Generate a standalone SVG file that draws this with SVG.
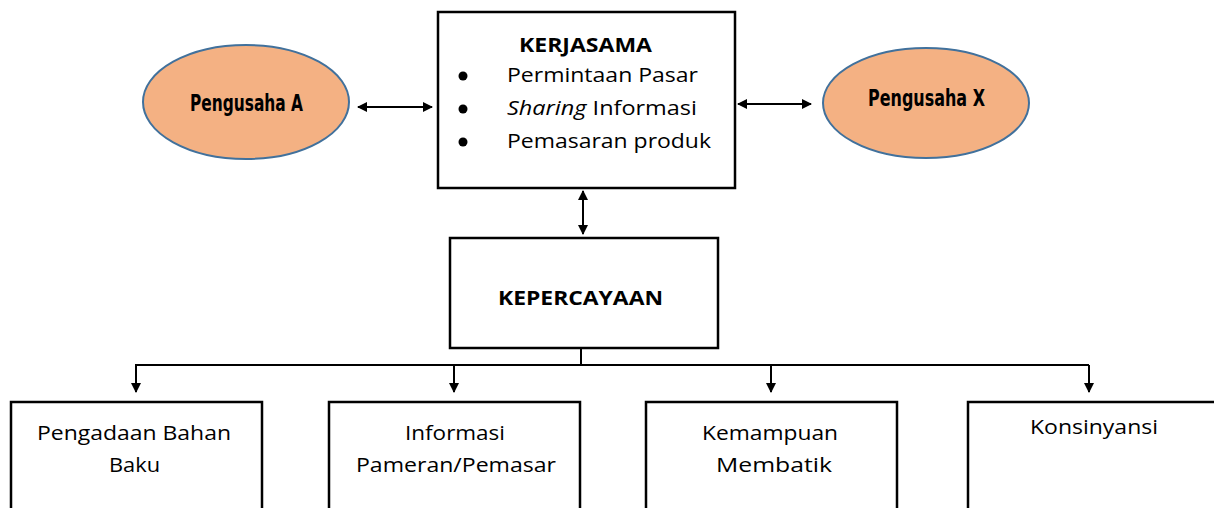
<svg xmlns="http://www.w3.org/2000/svg" width="1214" height="508" viewBox="0 0 1214 508">
<style>
.box{fill:#fff;stroke:#000;stroke-width:2.5}
.ell{fill:#F4B183;stroke:#41719C;stroke-width:2}
.t{font-family:"Open Sans","Liberation Sans",sans-serif;font-size:20px;fill:#000}
.b{font-weight:bold}
.e{font-family:"DejaVu Sans","Liberation Sans",sans-serif;font-weight:bold;font-stretch:condensed;font-size:23px;fill:#000}
.c{fill:none;stroke:#000;stroke-width:2}
</style>
<defs>
<marker id="ah" viewBox="0 0 10 10" refX="9" refY="5" markerWidth="5" markerHeight="5" orient="auto-start-reverse" markerUnits="strokeWidth">
<path d="M0,0 L10,5 L0,10 z" fill="#000"/>
</marker>
</defs>
<g id="connectors">
<line class="c" x1="358" y1="107" x2="432" y2="107" marker-start="url(#ah)" marker-end="url(#ah)"/>
<line class="c" x1="738" y1="104" x2="811" y2="104" marker-start="url(#ah)" marker-end="url(#ah)"/>
<line class="c" x1="583" y1="191" x2="583" y2="234" marker-start="url(#ah)" marker-end="url(#ah)"/>
<polyline class="c" points="581,349 581,365"/>
<line class="c" x1="135" y1="365" x2="1089" y2="365"/>
<line class="c" x1="136" y1="365" x2="136" y2="392" marker-end="url(#ah)"/>
<line class="c" x1="454" y1="365" x2="454" y2="392" marker-end="url(#ah)"/>
<line class="c" x1="771" y1="365" x2="771" y2="392" marker-end="url(#ah)"/>
<line class="c" x1="1089" y1="365" x2="1089" y2="392" marker-end="url(#ah)"/>
</g>
<g id="kerjasama">
<rect class="box" x="438" y="12" width="297" height="176"/>
<text class="t b" x="519" y="52" textLength="133" lengthAdjust="spacingAndGlyphs">KERJASAMA</text>
<circle cx="463" cy="76" r="4.5"/>
<circle cx="463" cy="109" r="4.5"/>
<circle cx="463" cy="142" r="4.5"/>
<text class="t" x="507" y="82" textLength="191" lengthAdjust="spacingAndGlyphs">Permintaan Pasar</text>
<text class="t" x="507" y="115" textLength="190" lengthAdjust="spacingAndGlyphs"><tspan font-style="italic">Sharing</tspan> Informasi</text>
<text class="t" x="507" y="148" textLength="204" lengthAdjust="spacingAndGlyphs">Pemasaran produk</text>
</g>
<g id="pengusaha-a">
<ellipse class="ell" cx="246" cy="102" rx="103" ry="57"/>
<text class="e" x="190" y="111" textLength="113" lengthAdjust="spacingAndGlyphs">Pengusaha A</text>
</g>
<g id="pengusaha-x">
<ellipse class="ell" cx="926" cy="103" rx="103" ry="55"/>
<text class="e" x="868" y="106" textLength="117" lengthAdjust="spacingAndGlyphs">Pengusaha X</text>
</g>
<g id="kepercayaan">
<rect class="box" x="450" y="238" width="268" height="110"/>
<text class="t b" x="498" y="305" textLength="165" lengthAdjust="spacingAndGlyphs">KEPERCAYAAN</text>
</g>
<g id="pengadaan">
<rect class="box" x="11" y="402" width="251" height="120"/>
<text class="t" x="37" y="440" textLength="194" lengthAdjust="spacingAndGlyphs">Pengadaan Bahan</text>
<text class="t" x="109" y="472" textLength="51" lengthAdjust="spacingAndGlyphs">Baku</text>
</g>
<g id="informasi">
<rect class="box" x="329" y="402" width="251" height="120"/>
<text class="t" x="405" y="440" textLength="100" lengthAdjust="spacingAndGlyphs">Informasi</text>
<text class="t" x="356" y="472" textLength="200" lengthAdjust="spacingAndGlyphs">Pameran/Pemasar</text>
</g>
<g id="kemampuan">
<rect class="box" x="646" y="402" width="251" height="120"/>
<text class="t" x="702" y="440" textLength="136" lengthAdjust="spacingAndGlyphs">Kemampuan</text>
<text class="t" x="716" y="472" textLength="116" lengthAdjust="spacingAndGlyphs">Membatik</text>
</g>
<g id="konsinyansi">
<rect class="box" x="968" y="402" width="260" height="120"/>
<text class="t" x="1030" y="434" textLength="128" lengthAdjust="spacingAndGlyphs">Konsinyansi</text>
</g>
</svg>
